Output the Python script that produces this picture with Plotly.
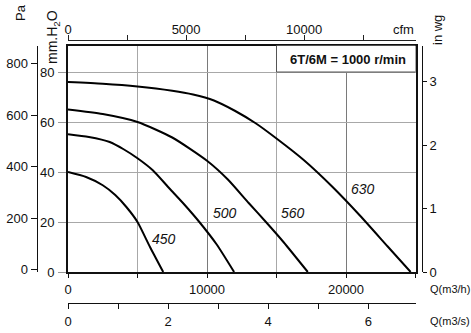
import plotly.graph_objects as go

# ---- data (Q in m3/h, pressure in mm H2O) ----
q_450 = [0, 1300, 2500, 3400, 4200, 5000, 5900, 6850]
p_450 = [40.0, 38.0, 34.7, 30.8, 26.0, 20.0, 10.0, 0]

q_500 = [0, 1500, 3000, 4000, 5000, 6100, 7300, 8400, 9450, 10700, 11950]
p_500 = [55.1, 54.0, 52.0, 49.1, 45.5, 40.7, 33.4, 26.8, 20.0, 11.0, 0]

q_560 = [0, 2500, 5000, 7500, 10000, 11500, 13000, 14240, 15500, 17250]
p_560 = [65.0, 63.2, 60.0, 53.8, 44.5, 37.0, 27.6, 20.0, 12.0, 0]

q_630 = [0, 2500, 5000, 7500, 9000, 10500, 12000, 13500, 15000, 17000, 19000, 21000, 23000, 24650]
p_630 = [76.0, 75.3, 74.2, 72.5, 71.0, 68.6, 64.5, 59.5, 53.4, 44.6, 34.2, 22.6, 10.2, 0]

curves = [("450", q_450, p_450), ("500", q_500, p_500),
          ("560", q_560, p_560), ("630", q_630, p_630)]
label_pos = {"450": (6900, 13.1), "500": (11300, 23.7),
             "560": (16200, 23.7), "630": (21200, 33.1)}

title_text = "6T/6M = 1000 r/min"

Q_MAX = 25000          # m3/h
MM_MAX = 90.6          # mm H2O
CFM_PER_M3H = 1 / 1.69901
M3S_PER_M3H = 1 / 3600
INWG_PER_MM = 1 / 25.4
PA_MIN, PA_MAX = -9.7, 869.9

W, H = 471, 333
def fx(px): return px / W
def fy(py): return 1 - py / H

FONT = "Liberation Sans, Arial, Helvetica, sans-serif"

fig = go.Figure()
for name, q, p in curves:
    fig.add_trace(go.Scatter(x=q, y=p, mode="lines",
                             line=dict(color="black", width=2, shape="spline", smoothing=0.6),
                             showlegend=False, hoverinfo="skip"))

# empty traces so the secondary scales are drawn
for xa, ya in [("x", "y2"), ("x", "y3"), ("x2", "y"), ("x3", "y")]:
    fig.add_trace(go.Scatter(x=[], y=[], xaxis=xa, yaxis=ya, mode="lines",
                             showlegend=False, hoverinfo="skip"))

x_dom = [fx(68), fx(415.5)]
y_dom = [fy(272), fy(45.5)]

fig.update_layout(
    width=W, height=H,
    margin=dict(l=0, r=0, t=0, b=0, autoexpand=False),
    paper_bgcolor="white", plot_bgcolor="white",
    font=dict(family=FONT, size=13, color="#111"),
    showlegend=False,
    xaxis=dict(domain=x_dom, range=[0, Q_MAX], anchor="y", side="bottom",
               showline=True, linecolor="#111", linewidth=1.8, mirror=True,
               dtick=10000, tick0=0, tickformat="d", ticks="outside", ticklen=4, tickcolor="#111",
               showgrid=True, gridcolor="#7a7a7a", gridwidth=1, zeroline=False,
               minor=dict(dtick=5000, ticks="outside", ticklen=4, tickcolor="#111",
                          showgrid=True, gridcolor="#a8a8a8", gridwidth=1),
               ticklabelstandoff=0, automargin=False),
    yaxis=dict(domain=y_dom, range=[0, MM_MAX], anchor="x",
               showline=True, linecolor="#111", linewidth=1.8, mirror=True,
               dtick=20, ticks="outside", ticklen=8, tickcolor="#999",
               showgrid=True, gridcolor="#a8a8a8", gridwidth=1, zeroline=False,
               ticklabelstandoff=1, automargin=False),
    yaxis2=dict(overlaying="y", anchor="free", position=fx(36.7), side="left",
                domain=y_dom, range=[PA_MIN, PA_MAX], dtick=200, tick0=0, tickformat="d",
                showline=True, linecolor="#111", linewidth=1.2,
                ticks="outside", ticklen=6, tickcolor="#111",
                showgrid=False, zeroline=False, automargin=False),
    yaxis3=dict(overlaying="y", anchor="free", position=fx(421.7), side="right",
                domain=y_dom, range=[0, MM_MAX * INWG_PER_MM], dtick=1, tick0=0,
                showline=True, linecolor="#111", linewidth=1.2,
                ticks="outside", ticklen=4, tickcolor="#111",
                showgrid=False, zeroline=False, automargin=False),
    xaxis2=dict(overlaying="x", anchor="free", position=fy(40), side="top",
                domain=x_dom, range=[0, Q_MAX * CFM_PER_M3H], dtick=5000, tick0=0, tickformat="d",
                showline=True, linecolor="#222", linewidth=1.2,
                ticks="outside", ticklen=5, tickcolor="#222",
                minor=dict(dtick=2500, ticks="outside", ticklen=5, tickcolor="#222"),
                showgrid=False, zeroline=False, ticklabelstandoff=-4, automargin=False),
    xaxis3=dict(overlaying="x", anchor="free", position=fy(303), side="bottom",
                domain=x_dom, range=[0, Q_MAX * M3S_PER_M3H], dtick=2, tick0=0,
                showline=True, linecolor="#111", linewidth=1.2,
                ticks="outside", ticklen=5, tickcolor="#111",
                minor=dict(dtick=1, ticks="outside", ticklen=5, tickcolor="#111"),
                showgrid=False, zeroline=False, ticklabelstandoff=1, automargin=False),
)

# header box
fig.add_shape(type="rect", xref="x", yref="y", x0=15000, x1=Q_MAX, y0=80, y1=MM_MAX,
              fillcolor="white", line=dict(color="#555", width=1), layer="above")

def pa(text, x, y, size=13, angle=0):
    return dict(text=text, x=fx(x), y=fy(y), xref="paper", yref="paper",
                xanchor="center", yanchor="middle", textangle=angle,
                showarrow=False, font=dict(size=size, color="#111"))

ann = [pa("<b>" + title_text + "</b>", 348, 59)]
for name, (qx, py) in label_pos.items():
    ann.append(dict(text="<i>" + name + "</i>", x=qx, y=py, xref="x", yref="y",
                    xanchor="center", yanchor="middle",
                    showarrow=False, font=dict(size=14, color="#111")))
ann += [
    pa("Pa", 20, 13, angle=-90),
    pa("mm.H<sub>2</sub>O", 53, 37, size=14, angle=-90),
    pa("cfm", 403, 29),
    pa("in wg", 438, 30, angle=-90),
    pa("Q(m3/h)", 450, 289, size=11),
    pa("Q(m3/s)", 450, 321, size=11),
]
fig.update_layout(annotations=ann)

fig.write_html("out.html")
